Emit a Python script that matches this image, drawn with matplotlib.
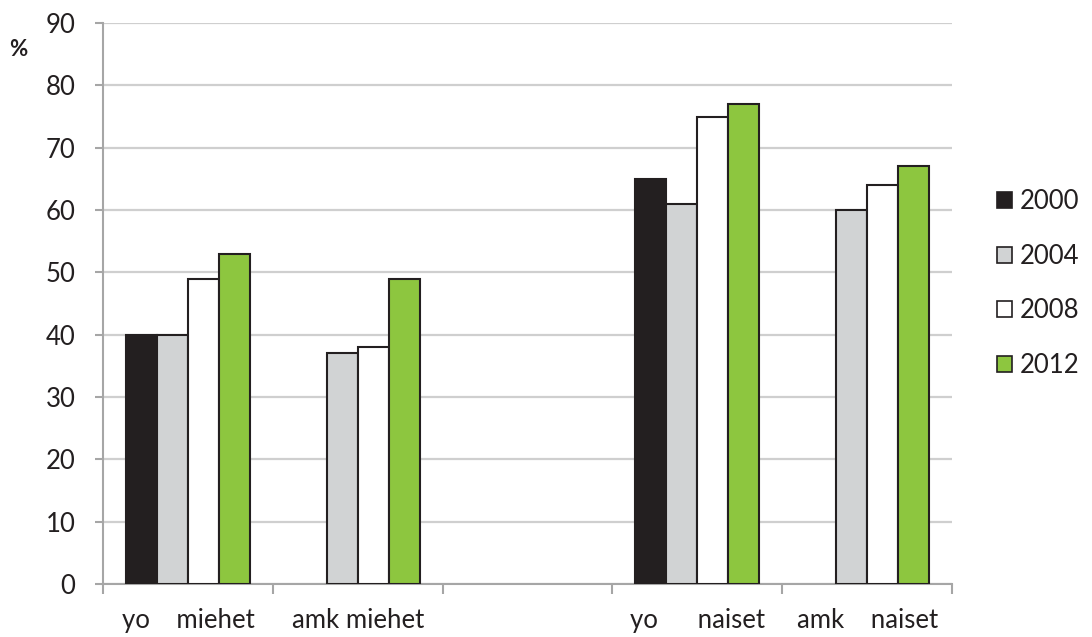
import numpy as np
import matplotlib
matplotlib.use("Agg")
import matplotlib.pyplot as plt
from matplotlib.patches import Patch

categories = ["yo    miehet", "amk miehet", "", "yo      naiset", "amk    naiset"]
years = ["2000", "2004", "2008", "2012"]
v2000 = [40, np.nan, np.nan, 65, np.nan]
v2004 = [40, 37, np.nan, 61, 60]
v2008 = [49, 38, np.nan, 75, 64]
v2012 = [53, 49, np.nan, 77, 67]
series = [v2000, v2004, v2008, v2012]
colors = ["#231f20", "#d1d3d4", "#ffffff", "#8dc63f"]
edge = "#231f20"

plt.rcParams['font.family'] = ['Lato', 'DejaVu Sans']
fig = plt.figure(figsize=(10.92, 6.37), dpi=100)
ax = fig.add_axes([103/1092, 1-584/637, (952-103)/1092, (584-23)/637])

x = np.arange(len(categories))
bw = 0.1824
for i, (vals, c) in enumerate(zip(series, colors)):
    ax.bar(x + (i - 1.5) * bw, vals, width=bw, color=c, edgecolor=edge,
           linewidth=1.5, zorder=3)

ax.set_xlim(-0.5, len(categories) - 0.5)
ax.set_ylim(0, 90)
ax.set_yticks(np.arange(0, 91, 10))
ax.yaxis.grid(True, color="#cfcfcf", linewidth=1.6, zorder=0)
ax.set_axisbelow(True)

ax.set_xticks(np.arange(-0.5, len(categories), 1.0))
ax.set_xticklabels([])
ax.set_xticks(x, minor=True)
ax.set_xticklabels(categories, minor=True)
ax.tick_params(axis='x', which='major', length=7.2, width=1.5, color="#a6a6a6")
ax.tick_params(axis='x', which='minor', length=0, pad=17, labelsize=18.5, labelcolor="#231f20")
ax.tick_params(axis='y', length=5.8, width=1.5, color="#a6a6a6", labelsize=18.5,
               labelcolor="#231f20", pad=14)

for s in ["top", "right"]:
    ax.spines[s].set_visible(False)
for s in ["left", "bottom"]:
    ax.spines[s].set_color("#a6a6a6")
    ax.spines[s].set_linewidth(1.5)

handles = [Patch(facecolor=c, edgecolor=edge, linewidth=1.2) for c in colors]
fig.legend(handles, years, loc='center left', bbox_to_anchor=(997/1092, 1 - 283.5/637),
           frameon=False, fontsize=18.5, handlelength=0.58, handleheight=0.58,
           handletextpad=0.3, labelspacing=1.15, borderpad=0, borderaxespad=0,
           labelcolor="#231f20")

fig.text(18/1092, 1 - 50/637, "%", fontsize=16, fontweight='bold', color="#231f20",
         ha='center', va='center')

fig.savefig("out.png", dpi=100)
